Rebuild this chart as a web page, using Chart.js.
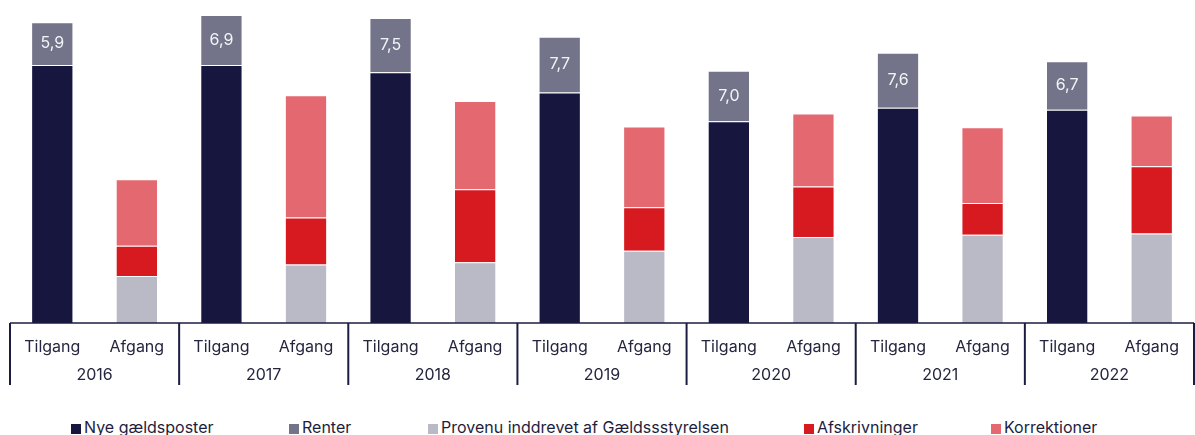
<!DOCTYPE html>
<html lang="da">
<head>
<meta charset="UTF-8">
<title>Tilgang og afgang</title>
<script src="https://cdn.jsdelivr.net/npm/chart.js@4.4.1/dist/chart.umd.min.js"></script>
<style>
  body { margin: 0; background: #fff; width: 1195px; height: 435px; overflow: hidden; position: relative; font-family: Inter, sans-serif; }
  #wrap { position: absolute; left: 0; top: 0; width: 1195px; height: 395px; }
  #legend { position: absolute; left: 0; top: 417px; width: 1195px; height: 20px; }
  .item { position: absolute; top: 0; font-size: 16px; line-height: 20px; color: #1e1e3c; white-space: nowrap; }
  .item i { display: inline-block; width: 10px; height: 10px; margin-right: 3px; vertical-align: -1px; }
</style>
</head>
<body>
<div id="wrap"><canvas id="chart"></canvas></div>
<div id="legend"></div>
<script>
// Data (mia. kr.)
const years = ['2016', '2017', '2018', '2019', '2020', '2021', '2022'];
const sides = ['Tilgang', 'Afgang'];
const nyeGaeldsposter = [35.7, 35.7, 34.7, 31.9, 27.9, 29.8, 29.5];
const renter = [5.9, 6.9, 7.5, 7.7, 7.0, 7.6, 6.7];
const provenu = [6.5, 8.1, 8.4, 10.0, 11.9, 12.2, 12.4];
const afskrivninger = [4.2, 6.5, 10.1, 6.0, 7.0, 4.4, 9.3];
const korrektioner = [9.2, 16.9, 12.2, 11.2, 10.1, 10.5, 7.0];

const seriesNames = ['Nye gældsposter', 'Renter', 'Provenu inddrevet af Gældssstyrelsen', 'Afskrivninger', 'Korrektioner'];
const seriesColors = ['#16163f', '#737389', '#babac6', '#d71920', '#e46870'];
const legendLeft = [71, 289, 428, 804, 991];

const textColor = '#25253f';
const axisColor = '#1c1c42';

// one category per side per year
const labels = [];
years.forEach(() => sides.forEach(s => labels.push(s)));

// Tilgang-series sit on even slots, Afgang-series on odd slots
function onSide(values, side) {
    const out = [];
    values.forEach(v => {
        out.push(side === 0 ? v : null);
        out.push(side === 1 ? v : null);
    });
    return out;
}

const datasets = [
    onSide(nyeGaeldsposter, 0),
    onSide(renter, 0),
    onSide(provenu, 1),
    onSide(afskrivninger, 1),
    onSide(korrektioner, 1)
].map((data, i) => ({
    label: seriesNames[i],
    data: data,
    backgroundColor: seriesColors[i],
    borderColor: 'rgba(255,255,255,0.15)',
    borderWidth: 1,
    stack: 'a'
}));

// axis line, year separators and year labels
const groupAxis = {
    id: 'groupAxis',
    afterDraw(chart) {
        const { ctx, chartArea } = chart;
        const x = chart.scales.x;
        const half = (x.getPixelForValue(1) - x.getPixelForValue(0)) / 2;
        ctx.save();
        ctx.strokeStyle = axisColor;
        ctx.lineWidth = 1.5;
        ctx.beginPath();
        ctx.moveTo(chartArea.left, chartArea.bottom);
        ctx.lineTo(chartArea.right, chartArea.bottom);
        ctx.stroke();

        ctx.lineWidth = 2;
        for (let g = 0; g <= years.length; g++) {
            const px = g < years.length ? x.getPixelForValue(g * 2) - half : x.getPixelForValue(g * 2 - 1) + half;
            ctx.beginPath();
            ctx.moveTo(px, chartArea.bottom);
            ctx.lineTo(px, chartArea.bottom + 62);
            ctx.stroke();
        }

        ctx.fillStyle = textColor;
        ctx.font = '16px Inter';
        ctx.textAlign = 'center';
        ctx.textBaseline = 'middle';
        years.forEach((y, g) => {
            const cx = (x.getPixelForValue(g * 2) + x.getPixelForValue(g * 2 + 1)) / 2;
            ctx.fillText(y, cx, chartArea.bottom + 52);
        });
        ctx.restore();
    }
};

// value labels inside the Renter segments
const renterLabels = {
    id: 'renterLabels',
    afterDatasetsDraw(chart) {
        const { ctx } = chart;
        const meta = chart.getDatasetMeta(1);
        ctx.save();
        ctx.fillStyle = '#f4f4f8';
        ctx.font = '16px Inter';
        ctx.textAlign = 'center';
        ctx.textBaseline = 'middle';
        meta.data.forEach((bar, i) => {
            const v = chart.data.datasets[1].data[i];
            if (v == null) return;
            ctx.fillText(v.toFixed(1).replace('.', ','), bar.x, (bar.y + bar.base) / 2);
        });
        ctx.restore();
    }
};

new Chart(document.getElementById('chart'), {
    type: 'bar',
    data: { labels: labels, datasets: datasets },
    options: {
        responsive: true,
        maintainAspectRatio: false,
        animation: false,
        layout: { padding: { left: 10, right: 1, top: 5, bottom: 0 } },
        datasets: { bar: { barPercentage: 0.5, categoryPercentage: 1 } },
        plugins: {
            legend: { display: false },
            tooltip: { enabled: false }
        },
        scales: {
            x: {
                stacked: true,
                grid: { display: false },
                border: { display: false },
                ticks: {
                    color: textColor,
                    font: { family: 'Inter', size: 16 },
                    padding: 7,
                    maxRotation: 0,
                    autoSkip: false
                },
                afterFit(scale) { scale.height = 72; }
            },
            y: {
                display: false,
                stacked: true,
                min: 0,
                max: 44
            }
        }
    },
    plugins: [groupAxis, renterLabels]
});

// legend
const legend = document.getElementById('legend');
seriesNames.forEach((name, i) => {
    const el = document.createElement('div');
    el.className = 'item';
    el.style.left = legendLeft[i] + 'px';
    el.innerHTML = '<i style="background:' + seriesColors[i] + '"></i>' + name;
    legend.appendChild(el);
});
</script>
</body>
</html>
